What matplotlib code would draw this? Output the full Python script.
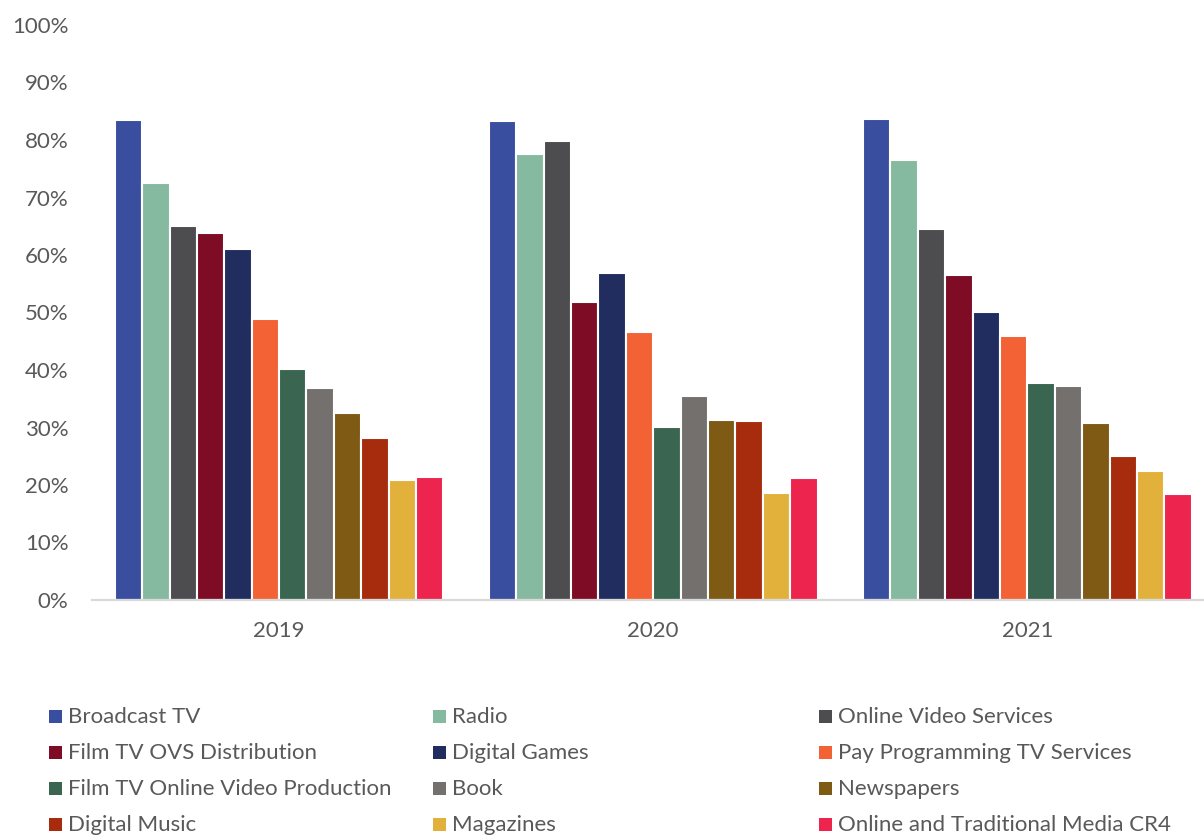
import matplotlib.pyplot as plt
from matplotlib.patches import Rectangle
import numpy as np

years = ["2019", "2020", "2021"]

series = [
    "Broadcast TV",
    "Radio",
    "Online Video Services",
    "Film TV OVS Distribution",
    "Digital Games",
    "Pay Programming TV Services",
    "Film TV Online Video Production",
    "Book",
    "Newspapers",
    "Digital Music",
    "Magazines",
    "Online and Traditional Media CR4",
]

# share per year, in percent
broadcast_tv = [83.4, 83.3, 83.6]
radio = [72.6, 77.5, 76.5]
online_video = [65.1, 79.8, 64.5]
film_tv_ovs_dist = [63.9, 51.9, 56.6]
digital_games = [61.0, 56.8, 50.1]
pay_tv = [48.8, 46.6, 45.9]
film_tv_production = [40.2, 30.1, 37.7]
book = [36.8, 35.4, 37.2]
newspapers = [32.6, 31.3, 30.8]
digital_music = [28.2, 31.1, 25.0]
magazines = [20.9, 18.6, 22.4]
media_cr4 = [21.4, 21.3, 18.4]

values = [broadcast_tv, radio, online_video, film_tv_ovs_dist, digital_games,
          pay_tv, film_tv_production, book, newspapers, digital_music,
          magazines, media_cr4]

colors = ["#3A4EA0", "#86BAA0", "#4D4D4F", "#7E0C24", "#212D5E", "#F26235",
          "#3A6651", "#74706E", "#7E5A15", "#A72C0E", "#E2B13C", "#EC244E"]

TEXT = "#595959"
FS = 16
plt.rcParams["font.family"] = ["Lato", "DejaVu Sans"]

fig = plt.figure(figsize=(12.04, 8.36), dpi=100)
W, H = 1204, 836
ax = fig.add_axes([92 / W, (H - 600) / H, (W - 92) / W, 575 / H])

x = np.arange(len(years))
pitch = 0.0732
for i, (name, vals, c) in enumerate(zip(series, values, colors)):
    ax.bar(x + (i - 5.5) * pitch, np.array(vals) / 100, width=pitch,
           color=c, edgecolor="white", linewidth=1.5, label=name, zorder=2)

ax.set_xlim(-0.5, 2.472)
ax.set_ylim(0, 1.0)
ticks = np.arange(0, 1.01, 0.1)
ax.set_yticks(ticks)
ax.set_yticklabels([f"{int(round(v * 100))}%" for v in ticks])
ax.set_xticks(x)
ax.set_xticklabels(years)
ax.tick_params(axis="both", length=0, labelsize=FS, colors=TEXT)
ax.tick_params(axis="y", pad=17)
ax.tick_params(axis="x", pad=15)

for s in ["top", "right", "left"]:
    ax.spines[s].set_visible(False)
ax.spines["bottom"].set_color("#D9D9D9")
ax.spines["bottom"].set_linewidth(1.6)
ax.spines["bottom"].set_zorder(3)

# legend laid out row by row in three fixed columns
col_x = [49, 433, 819]
row_y = [716, 752, 788, 824]
sq = 13
for k, (name, c) in enumerate(zip(series, colors)):
    r, col = divmod(k, 3)
    px, py = col_x[col], row_y[r]
    fig.patches.append(Rectangle((px / W, (H - py - sq / 2) / H), sq / W, sq / H,
                                 transform=fig.transFigure, facecolor=c,
                                 edgecolor="none"))
    fig.text((px + sq + 6) / W, (H - py - 1) / H, name, fontsize=FS,
             color=TEXT, va="center", ha="left")

fig.savefig("out.png", dpi=100)
